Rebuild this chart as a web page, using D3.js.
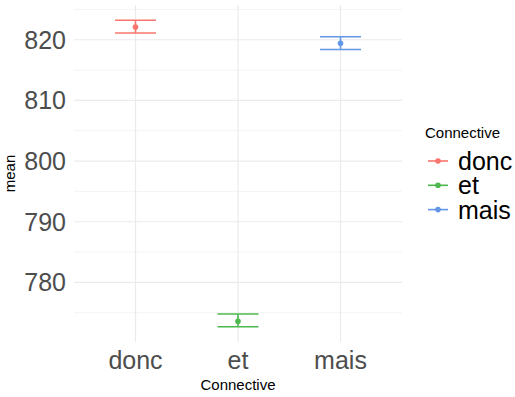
<!DOCTYPE html>
<html><head><meta charset="utf-8">
<script src="https://cdn.jsdelivr.net/npm/d3@7"></script>
<style>body{margin:0;background:#fff}svg{display:block}text{font-family:"Liberation Sans",Arial,sans-serif}</style>
</head><body>
<svg id="c" width="515" height="397"></svg>
<script>
const categories = ["donc","et","mais"];
const means = [822.1, 773.6, 819.4];
const lower = [821.1, 772.7, 818.4];
const upper = [823.2, 774.8, 820.5];
const colors = ["#F8766D","#4DB84D","#6396E6"];
const yTicks = [780,790,800,810,820];
const yMinor = [775,785,795,805,815,825];

const svg = d3.select("#c");
const L = 74, R = 402, T = 5, B = 342;
const lo = d3.min(lower), hi = d3.max(upper), ex = (hi-lo)*0.05;
const y = d3.scaleLinear().domain([lo-ex, hi+ex]).range([B, T]);
const x = d3.scalePoint().domain(categories).range([L, R]).padding(0.6);
const step = x.step();

const g = svg.append("g");
g.selectAll(".mn").data(yMinor).join("line")
  .attr("x1",L).attr("x2",R).attr("y1",d=>y(d)).attr("y2",d=>y(d))
  .attr("stroke","#EBEBEB").attr("stroke-width",0.6);
g.selectAll(".mj").data(yTicks).join("line")
  .attr("x1",L).attr("x2",R).attr("y1",d=>y(d)).attr("y2",d=>y(d))
  .attr("stroke","#EBEBEB").attr("stroke-width",1.2);
g.selectAll(".vx").data(categories).join("line")
  .attr("x1",d=>x(d)).attr("x2",d=>x(d)).attr("y1",T).attr("y2",B)
  .attr("stroke","#EBEBEB").attr("stroke-width",1.2);

g.selectAll(".yt").data(yTicks).join("text")
  .attr("x",66).attr("y",d=>y(d)).attr("dy","0.36em")
  .attr("text-anchor","end").attr("font-size",25).attr("fill","#4D4D4D").text(d=>d);
g.selectAll(".xt").data(categories).join("text")
  .attr("x",d=>x(d)).attr("y",369)
  .attr("text-anchor","middle").attr("font-size",25).attr("fill","#4D4D4D").text(d=>d);
svg.append("text").attr("x",x("et")).attr("y",390).attr("text-anchor","middle")
  .attr("font-size",15).attr("fill","#000").text("Connective");
svg.append("text").attr("transform",`translate(15,${(T+B)/2}) rotate(-90)`)
  .attr("text-anchor","middle").attr("font-size",15).attr("fill","#000").text("mean");

const hw = step*0.2;
categories.forEach((c,i)=>{
  const eg = g.append("g").attr("stroke",colors[i]).attr("stroke-width",1.6).attr("fill","none");
  eg.append("line").attr("x1",x(c)).attr("x2",x(c)).attr("y1",y(lower[i])).attr("y2",y(upper[i]));
  eg.append("line").attr("x1",x(c)-hw).attr("x2",x(c)+hw).attr("y1",y(lower[i])).attr("y2",y(lower[i]));
  eg.append("line").attr("x1",x(c)-hw).attr("x2",x(c)+hw).attr("y1",y(upper[i])).attr("y2",y(upper[i]));
  g.append("circle").attr("cx",x(c)).attr("cy",y(means[i])).attr("r",2.8).attr("fill",colors[i]);
});

const lg = svg.append("g");
lg.append("text").attr("x",425).attr("y",138).attr("font-size",15).attr("fill","#000").text("Connective");
categories.forEach((c,i)=>{
  const cy = 161 + i*24.3;
  lg.append("line").attr("x1",428).attr("x2",448).attr("y1",cy).attr("y2",cy)
    .attr("stroke",colors[i]).attr("stroke-width",1.6);
  lg.append("circle").attr("cx",438).attr("cy",cy).attr("r",2.8).attr("fill",colors[i]);
  lg.append("text").attr("x",458).attr("y",cy).attr("dy","0.36em").attr("font-size",25).attr("fill","#000").text(c);
});
</script>
</body></html>
